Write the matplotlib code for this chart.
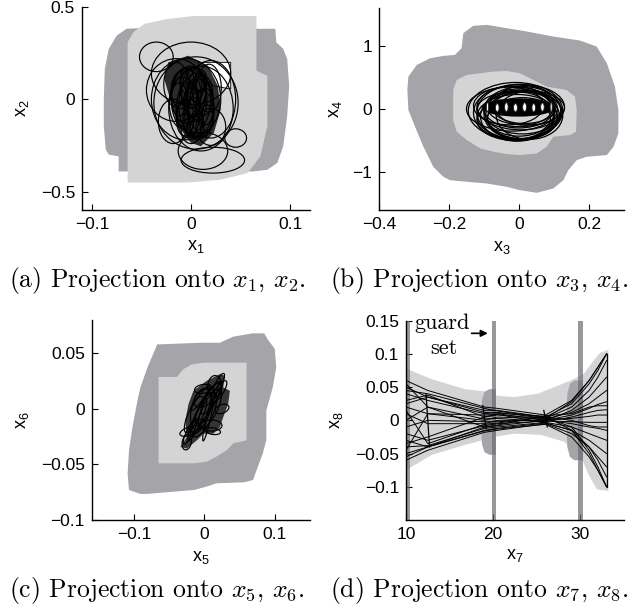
import matplotlib
matplotlib.use("Agg")
import matplotlib.pyplot as plt
from matplotlib.patches import Polygon, Ellipse

plt.rcParams["font.family"] = ["Liberation Sans", "DejaVu Sans"]
plt.rcParams["mathtext.fontset"] = "cm"

DARK = "#a4a4a9"
LIGHT = "#d4d4d4"
BAR = "#6c6c72"

# ---- panel (a): x1, x2 ----
A_DARK_X = [-0.050, -0.065, -0.075, -0.083, -0.087, -0.088, -0.088, -0.086, -0.083, -0.073,
            -0.073, -0.063, 0.063, 0.077, 0.087, 0.093, 0.097, 0.099, 0.097, 0.093, 0.086,
            0.085, 0.066]
A_DARK_Y = [0.386, 0.382, 0.345, 0.273, 0.164, 0.0, -0.145, -0.273, -0.300, -0.309,
            -0.391, -0.391, -0.391, -0.382, -0.345, -0.255, -0.091, 0.073, 0.218, 0.273,
            0.309, 0.382, 0.382]
A_LIGHT_X = [-0.064, -0.058, -0.047, -0.023, 0.003, 0.066, 0.066, 0.077, 0.077, 0.070,
             0.057, 0.030, -0.003, -0.064]
A_LIGHT_Y = [0.309, 0.364, 0.409, 0.436, 0.451, 0.451, 0.155, 0.127, -0.145, -0.309,
             -0.400, -0.436, -0.451, -0.451]
A_WHITE_X = [0.007, 0.040, 0.040, 0.023, 0.010]
A_WHITE_Y = [0.200, 0.200, 0.055, 0.073, 0.127]
A_CORE_X = [-0.023, -0.003, 0.017, 0.027, 0.030, 0.023, 0.010, 0.0, -0.013, -0.020, -0.027]
A_CORE_Y = [0.200, 0.236, 0.182, 0.073, -0.055, -0.182, -0.255, -0.236, -0.145, -0.018, 0.109]
# loops: centre x, centre y, width, height
A_LOOP_CX = [-0.035, 0.0, 0.022, 0.012, 0.045, 0.005, -0.005, 0.010, -0.015, 0.020,
             0.0, 0.005, -0.005, 0.008, -0.008, 0.003, 0.010, -0.003, 0.0, 0.006,
             -0.010, 0.012, 0.002, -0.006, 0.004, 0.014, -0.012, 0.0, 0.008, -0.004,
             0.006, 0.0, 0.010, -0.008, 0.016, 0.002, -0.015, 0.018, 0.020, -0.018]
A_LOOP_CY = [0.23, 0.14, -0.33, -0.28, -0.21, -0.02, 0.0, -0.05, 0.05, 0.0,
             0.0, -0.03, 0.02, -0.05, -0.02, 0.04, -0.08, -0.06, 0.06, 0.0,
             0.05, 0.02, -0.10, -0.10, 0.08, -0.04, 0.0, -0.02, 0.05, 0.10,
             -0.14, -0.17, 0.10, -0.08, -0.10, 0.01, 0.08, 0.06, -0.15, -0.12]
A_LOOP_W = [0.034, 0.080, 0.064, 0.050, 0.022, 0.085, 0.070, 0.065, 0.060, 0.050,
            0.040, 0.035, 0.030, 0.030, 0.028, 0.025, 0.026, 0.024, 0.022, 0.020,
            0.020, 0.020, 0.020, 0.018, 0.018, 0.018, 0.016, 0.016, 0.014, 0.014,
            0.014, 0.020, 0.012, 0.012, 0.012, 0.012, 0.025, 0.025, 0.030, 0.030]
A_LOOP_H = [0.16, 0.34, 0.14, 0.20, 0.10, 0.50, 0.44, 0.46, 0.34, 0.42,
            0.36, 0.34, 0.30, 0.32, 0.28, 0.26, 0.26, 0.30, 0.22, 0.24,
            0.20, 0.22, 0.22, 0.20, 0.18, 0.20, 0.18, 0.16, 0.16, 0.14,
            0.16, 0.14, 0.12, 0.14, 0.14, 0.12, 0.24, 0.26, 0.20, 0.24]

# ---- panel (b): x3, x4 ----
B_DARK_X = [-0.316, -0.292, -0.254, -0.216, -0.183, -0.164, -0.159, -0.131, -0.092, -0.035,
            0.022, 0.098, 0.174, 0.222, 0.251, 0.274, 0.284, 0.284, 0.270, 0.251, 0.193,
            0.165, 0.141, 0.127, 0.098, 0.051, 0.003, -0.035, -0.092, -0.149, -0.197,
            -0.216, -0.245, -0.273, -0.297, -0.316, -0.319]
B_DARK_Y = [0.513, 0.698, 0.804, 0.841, 0.857, 0.963, 1.201, 1.317, 1.333, 1.280,
            1.228, 1.148, 1.085, 0.989, 0.725, 0.354, -0.016, -0.386, -0.598, -0.730, -0.757,
            -0.810, -0.968, -1.127, -1.259, -1.328, -1.286, -1.233, -1.180, -1.153, -1.127,
            -1.074, -0.915, -0.598, -0.280, -0.016, 0.302]
B_LIGHT_X = [-0.188, -0.178, -0.149, -0.073, -0.035, 0.003, 0.051, 0.079, 0.136, 0.160,
             0.165, 0.163, 0.146, 0.098, 0.079, 0.051, 0.003, -0.035, -0.073, -0.111,
             -0.149, -0.178, -0.188, -0.188]
B_LIGHT_Y = [0.302, 0.460, 0.540, 0.593, 0.603, 0.566, 0.434, 0.354, 0.302, 0.196,
             -0.016, -0.360, -0.413, -0.439, -0.598, -0.704, -0.730, -0.714, -0.677, -0.624,
             -0.492, -0.360, -0.175, 0.143]
B_LOOP_CX = [-0.010, 0.0, -0.020, 0.010, 0.0, 0.0, 0.015, 0.0, 0.010, -0.005,
             0.030, -0.030, 0.020, -0.015, 0.005, -0.005, 0.015, 0.010, -0.010, 0.0]
B_LOOP_CY = [-0.03, -0.05, 0.0, -0.02, 0.0, -0.08, 0.02, 0.0, -0.10, -0.12,
             -0.10, 0.05, 0.02, -0.06, 0.03, -0.12, 0.06, -0.15, -0.18, -0.14]
B_LOOP_W = [0.27, 0.24, 0.26, 0.22, 0.20, 0.20, 0.18, 0.24, 0.21, 0.23,
            0.19, 0.20, 0.22, 0.23, 0.25, 0.21, 0.17, 0.20, 0.22, 0.18]
B_LOOP_H = [0.90, 0.88, 0.70, 0.75, 0.60, 0.80, 0.50, 0.56, 0.74, 0.70,
            0.76, 0.60, 0.55, 0.85, 0.72, 0.78, 0.62, 0.66, 0.64, 0.58]
B_CORE = [-0.002, 0.024, 0.21, 0.29]  # centre x, centre y, width, height of dense band
B_HOLE_CX = [-0.090, -0.062, -0.036, -0.010, 0.016, 0.042, 0.067, 0.092]
B_HOLE_CY = [0.03, 0.02, 0.03, 0.02, 0.03, 0.02, 0.03, 0.03]
B_HOLE_W = [0.006, 0.010, 0.010, 0.011, 0.011, 0.010, 0.010, 0.006]
B_HOLE_H = [0.15, 0.13, 0.14, 0.13, 0.14, 0.13, 0.13, 0.15]

# ---- panel (c): x5, x6 ----
C_DARK_X = [-0.067, -0.006, 0.022, 0.041, 0.069, 0.085, 0.090, 0.100, 0.102, 0.097,
            0.088, 0.088, 0.083, 0.069, 0.057, 0.017, 0.003, -0.015, -0.044, -0.081,
            -0.091, -0.107, -0.109, -0.107, -0.102, -0.095, -0.091, -0.081]
C_DARK_Y = [0.058, 0.0595, 0.0595, 0.065, 0.068, 0.068, 0.0625, 0.054, 0.037, 0.019,
            -0.0015, -0.028, -0.040, -0.064, -0.066, -0.067, -0.070, -0.073, -0.0745, -0.0765,
            -0.0765, -0.073, -0.058, -0.037, -0.016, 0.0074, 0.019, 0.037]
C_LIGHT_X = [-0.059, -0.039, -0.030, -0.018, -0.001, 0.060, 0.060, 0.041, 0.032, 0.017,
             0.003, -0.015, -0.065, -0.065]
C_LIGHT_Y = [0.0288, 0.0288, 0.0357, 0.040, 0.0416, 0.0416, -0.0283, -0.031, -0.037, -0.043,
             -0.0477, -0.049, -0.049, 0.0288]
C_CORE_X = [-0.034, -0.025, -0.027, -0.0225, -0.0155, 0.0034, 0.0221, 0.0292, 0.0268, 0.0362,
            0.0338, 0.0268, 0.0221, 0.0127, -0.0014, -0.0107, -0.0248]
C_CORE_Y = [-0.0343, -0.0254, -0.0104, 0.0045, 0.0163, 0.0253, 0.0313, 0.0297, 0.0193, 0.0163,
            0.0045, -0.0075, -0.0164, -0.0223, -0.0223, -0.0283, -0.0357]
# loops: centre x, centre y, width, height, tilt (deg)
C_LOOP_CX = [0.0, 0.005, -0.010, 0.010, -0.020, 0.020, 0.0, -0.005, 0.010, -0.020,
             -0.025, 0.015, 0.0, -0.010, 0.005, -0.005, 0.020, 0.008, -0.015, 0.025,
             -0.002, 0.012]
C_LOOP_CY = [0.0, 0.005, -0.010, 0.010, -0.020, 0.015, -0.005, 0.0, -0.015, -0.020,
             -0.030, 0.020, 0.010, -0.015, -0.010, 0.010, 0.022, 0.0, -0.005, 0.0,
             0.018, -0.020]
C_LOOP_W = [0.012, 0.015, 0.010, 0.012, 0.008, 0.010, 0.020, 0.025, 0.030, 0.030,
            0.012, 0.020, 0.030, 0.025, 0.006, 0.006, 0.008, 0.018, 0.014, 0.020,
            0.024, 0.022]
C_LOOP_H = [0.060, 0.050, 0.045, 0.040, 0.030, 0.030, 0.050, 0.040, 0.010, 0.008,
            0.015, 0.020, 0.015, 0.010, 0.040, 0.035, 0.025, 0.045, 0.040, 0.008,
            0.008, 0.006]
C_LOOP_ANG = [-40, -45, -35, -45, -40, -50, -40, -30, 0, 10,
              -40, -30, 20, 15, -20, -50, -40, -42, -38, 10,
              5, -5]

# ---- panel (d): x7, x8 ----
D_FUNNEL_X = [10, 12.95, 16.75, 19.4, 20.5, 22.4, 25.1, 27.0, 28.9, 30.4, 31.5, 32.3, 33.2,
              33.2, 31.9, 30.95, 30.0, 28.1, 25.5, 22.4, 20.2, 16.75, 12.95, 10]
D_FUNNEL_Y = [0.078, 0.062, 0.047, 0.043, 0.037, 0.035, 0.040, 0.050, 0.060, 0.070, 0.090,
              0.102, 0.106, -0.106, -0.104, -0.082, -0.052, -0.032, -0.022, -0.020, -0.025,
              -0.037, -0.052, -0.075]
D_BULGE1_X = [20.3, 19.6, 19.0, 18.7, 18.6, 18.7, 19.0, 19.6, 20.3]
D_BULGE1_Y = [0.047, 0.047, 0.043, 0.030, 0.0, -0.035, -0.048, -0.052, -0.052]
D_BULGE2_X = [30.3, 29.3, 28.8, 28.5, 28.4, 28.5, 28.8, 29.3, 30.3]
D_BULGE2_Y = [0.060, 0.060, 0.055, 0.040, 0.0, -0.040, -0.055, -0.060, -0.060]
GUARD_X = [10.25, 20.1, 30.0]
X7_KNOTS = [10, 12.5, 19, 20.5, 26, 29, 31, 32, 33]
X8_RUNS = [
    [0.060, 0.045, 0.020, 0.018, 0.008, 0.030, 0.060, 0.080, 0.100],
    [0.050, 0.035, 0.015, 0.015, 0.005, 0.025, 0.055, 0.075, 0.100],
    [0.040, 0.030, 0.010, 0.012, 0.003, 0.020, 0.045, 0.065, 0.090],
    [0.030, 0.038, 0.005, 0.010, 0.000, 0.015, 0.035, 0.050, 0.065],
    [0.020, 0.010, 0.000, 0.005, 0.002, 0.012, 0.025, 0.035, 0.045],
    [0.010, -0.005, -0.005, 0.000, 0.000, 0.008, 0.018, 0.024, 0.028],
    [0.000, 0.020, 0.002, 0.003, -0.002, 0.005, 0.012, 0.015, 0.016],
    [-0.010, 0.000, -0.002, -0.002, 0.001, 0.003, 0.006, 0.008, 0.008],
    [-0.020, -0.030, -0.008, -0.005, -0.001, -0.002, -0.003, -0.003, -0.003],
    [-0.030, -0.040, -0.010, -0.008, 0.000, -0.005, -0.010, -0.012, -0.015],
    [-0.040, -0.038, -0.012, -0.010, -0.003, -0.010, -0.020, -0.025, -0.030],
    [-0.050, -0.040, -0.015, -0.012, -0.004, -0.015, -0.030, -0.040, -0.050],
    [-0.060, -0.045, -0.018, -0.015, -0.005, -0.020, -0.040, -0.055, -0.070],
    [0.045, 0.040, 0.018, 0.014, 0.004, -0.010, -0.045, -0.070, -0.100],
    [-0.055, -0.040, -0.016, -0.013, -0.006, -0.025, -0.055, -0.075, -0.100],
    [0.025, 0.035, 0.012, 0.011, 0.006, -0.015, -0.050, -0.075, -0.100],
    [-0.035, -0.025, 0.005, 0.008, 0.003, 0.028, 0.060, 0.080, 0.100],
    [0.055, 0.020, -0.010, -0.007, 0.007, 0.010, 0.020, 0.022, 0.022],
    [-0.045, 0.010, 0.008, 0.009, -0.004, -0.015, -0.040, -0.060, -0.085],
    [0.015, -0.035, -0.006, -0.004, 0.005, 0.000, -0.008, -0.010, -0.010],
]
# reach-set snapshots (short near-vertical segments)
SNAP_X0 = [12.3, 18.8, 25.8, 33.0]
SNAP_X1 = [12.7, 19.2, 26.2, 33.0]
SNAP_Y0 = [0.040, 0.022, 0.015, 0.100]
SNAP_Y1 = [-0.040, -0.012, -0.010, -0.100]


def style(ax, xlim, ylim, xticks, xlabels, yticks, ylabels, xname, yname, xl_y, yl_x):
    ax.set_xlim(xlim)
    ax.set_ylim(ylim)
    ax.set_xticks(xticks, xlabels)
    ax.set_yticks(yticks, ylabels)
    for s in ("top", "right"):
        ax.spines[s].set_visible(False)
    for s in ("left", "bottom"):
        ax.spines[s].set_linewidth(1.0)
    ax.tick_params(direction="in", length=4, width=0.8, labelsize=12.5, pad=5)
    ax.set_xlabel(xname, fontsize=13, va="center")
    ax.set_ylabel(yname, fontsize=13, va="center")
    ax.xaxis.set_label_coords(0.5, xl_y)
    ax.yaxis.set_label_coords(yl_x, 0.5)


def loops(ax, cx, cy, w, h, ang=None, lw=0.8, z=3, fc="none", ec="black"):
    for i in range(len(cx)):
        a = 0 if ang is None else ang[i]
        ax.add_patch(Ellipse((cx[i], cy[i]), w[i], h[i], angle=a, facecolor=fc,
                             edgecolor=ec, lw=lw, zorder=z))


fig = plt.figure(figsize=(6.41, 6.08), dpi=100)
W, H = 641, 608


def axes_px(l, t, r, b):
    return fig.add_axes([l / W, 1 - b / H, (r - l) / W, (b - t) / H])


# (a)
ax = axes_px(82, 7, 310, 210)
ax.add_patch(Polygon(list(zip(A_DARK_X, A_DARK_Y)), color=DARK, lw=0))
ax.add_patch(Polygon(list(zip(A_LIGHT_X, A_LIGHT_Y)), color=LIGHT, lw=0))
ax.add_patch(Polygon(list(zip(A_WHITE_X, A_WHITE_Y)), facecolor="white",
                     edgecolor="black", lw=0.6, zorder=2))
ax.add_patch(Polygon(list(zip(A_CORE_X, A_CORE_Y)), facecolor="black", alpha=0.8,
                     lw=0, zorder=2.5))
loops(ax, A_LOOP_CX, A_LOOP_CY, A_LOOP_W, A_LOOP_H, lw=0.85)
style(ax, (-0.11, 0.12), (-0.6, 0.5), [-0.1, 0, 0.1], ["\u22120.1", "0", "0.1"],
      [-0.5, 0, 0.5], ["\u22120.5", "0", "0.5"],
      r"$\mathregular{x_1}$", r"$\mathregular{x_2}$", -0.182, -0.263)

# (b)
ax = axes_px(379, 8, 624, 210)
ax.add_patch(Polygon(list(zip(B_DARK_X, B_DARK_Y)), color=DARK, lw=0))
ax.add_patch(Polygon(list(zip(B_LIGHT_X, B_LIGHT_Y)), color=LIGHT, lw=0))
loops(ax, B_LOOP_CX, B_LOOP_CY, B_LOOP_W, B_LOOP_H, lw=0.9)
ax.add_patch(Ellipse((B_CORE[0], B_CORE[1]), B_CORE[2], B_CORE[3], facecolor="black",
                     lw=0, zorder=4))
loops(ax, B_HOLE_CX, B_HOLE_CY, B_HOLE_W, B_HOLE_H, lw=0.6, z=5, fc="white", ec="#222222")
style(ax, (-0.4, 0.3), (-1.6, 1.6), [-0.4, -0.2, 0, 0.2],
      ["\u22120.4", "\u22120.2", "0", "0.2"], [-1, 0, 1], ["\u22121", "0", "1"],
      r"$\mathregular{x_3}$", r"$\mathregular{x_4}$", -0.185, -0.176)

# (c)
ax = axes_px(91.7, 320, 310, 520)
ax.add_patch(Polygon(list(zip(C_DARK_X, C_DARK_Y)), color=DARK, lw=0))
ax.add_patch(Polygon(list(zip(C_LIGHT_X, C_LIGHT_Y)), color=LIGHT, lw=0))
ax.add_patch(Polygon(list(zip(C_CORE_X, C_CORE_Y)), facecolor="black", alpha=0.75,
                     lw=0, zorder=2.5))
loops(ax, C_LOOP_CX, C_LOOP_CY, C_LOOP_W, C_LOOP_H, C_LOOP_ANG, lw=0.85)
style(ax, (-0.16, 0.15), (-0.1, 0.08), [-0.1, 0, 0.1], ["\u22120.1", "0", "0.1"],
      [-0.1, -0.05, 0, 0.05], ["\u22120.1", "\u22120.05", "0", "0.05"],
      r"$\mathregular{x_5}$", r"$\mathregular{x_6}$", -0.185, -0.319)

# (d)
ax = axes_px(406, 320.7, 624, 520)
ax.add_patch(Polygon(list(zip(D_FUNNEL_X, D_FUNNEL_Y)), color=LIGHT, lw=0))
ax.add_patch(Polygon(list(zip(D_BULGE1_X, D_BULGE1_Y)), color=DARK, lw=0))
ax.add_patch(Polygon(list(zip(D_BULGE2_X, D_BULGE2_Y)), color=DARK, lw=0))
for gx in GUARD_X:
    ax.axvspan(gx - 0.25, gx + 0.25, color=BAR, alpha=0.7, lw=0, zorder=2)
for run in X8_RUNS:
    ax.plot(X7_KNOTS, run, color="black", lw=0.7, zorder=3)
for i in range(len(SNAP_X0)):
    ax.plot([SNAP_X0[i], SNAP_X1[i]], [SNAP_Y0[i], SNAP_Y1[i]], color="black", lw=0.9, zorder=3)
style(ax, (10, 35), (-0.15, 0.15), [10, 20, 30], ["10", "20", "30"],
      [-0.1, -0.05, 0, 0.05, 0.1, 0.15],
      ["\u22120.1", "\u22120.05", "0", "0.05", "0.1", "0.15"],
      r"$\mathregular{x_7}$", r"$\mathregular{x_8}$", -0.176, -0.321)
ax.text(14.1, 0.138, "guard", family="cmr10", fontsize=16, ha="center", va="baseline")
ax.text(14.3, 0.100, "set", family="cmr10", fontsize=16, ha="center", va="baseline")
ax.annotate("", xy=(19.7, 0.131), xytext=(17.2, 0.131),
            arrowprops=dict(arrowstyle="-|>", color="black", lw=1.2, mutation_scale=10))

# captions (baseline positions in pixels)
captions = ["(a) Projection onto $x_1$, $x_2$.", "(b) Projection onto $x_3$, $x_4$.",
            "(c) Projection onto $x_5$, $x_6$.", "(d) Projection onto $x_7$, $x_8$."]
cap_xy = [(157, 287), (479, 287), (157, 597), (479, 597)]
for txt, (cx, cy) in zip(captions, cap_xy):
    fig.text(cx / W, 1 - cy / H, txt, family="cmr10", fontsize=18.5, ha="center",
             va="baseline")

fig.savefig("out.png", dpi=100)
